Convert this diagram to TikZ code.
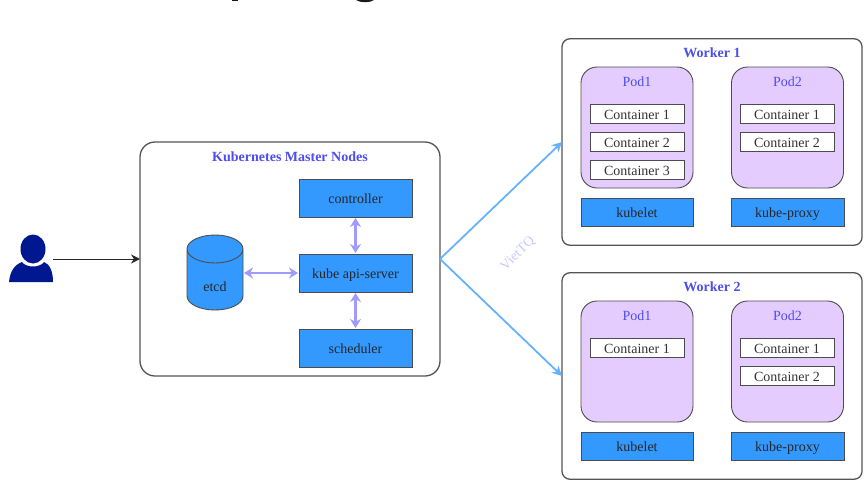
\documentclass[tikz,border=0pt]{standalone}
\usepackage{fontspec}
\setmainfont{Liberation Serif}
\usetikzlibrary{shapes.geometric,arrows.meta}
\definecolor{compblue}{HTML}{3399FF}
\definecolor{podpurple}{HTML}{E5CCFF}
\definecolor{titleblue}{HTML}{4D4DF0}
\definecolor{linkpurple}{HTML}{9F9BFF}
\definecolor{linkblue}{HTML}{66B2FF}
\definecolor{frameline}{HTML}{555555}
\definecolor{userblue}{HTML}{00188F}
\tikzset{
	nodebox/.style={draw=frameline,fill=white,rounded corners=#1,line width=1.3pt,outer sep=0pt},
	comp/.style={draw=black!70,fill=compblue,line width=0.9pt,outer sep=0pt,minimum height=#1,text=black!85,text height=11pt,text depth=0pt,inner ysep=0pt,font=\fontsize{14}{16}\selectfont},
	pod/.style={draw=black!70,fill=podpurple,rounded corners=16pt,line width=0.9pt,minimum width=112pt,minimum height=121pt,outer sep=0pt},
	cont/.style={draw=black!70,fill=white,line width=0.9pt,minimum width=94pt,minimum height=19pt,outer sep=0pt,inner sep=0pt,text=black!80,text height=10pt,text depth=0pt,font=\fontsize{14}{16}\selectfont},
	heading/.style={text=titleblue,font=\fontsize{14}{16}\selectfont\bfseries,inner sep=0pt},
	podname/.style={text=titleblue,font=\fontsize{14}{16}\selectfont,inner sep=0pt},
	purplelink/.style={{Stealth[length=9pt,width=11pt]}-{Stealth[length=9pt,width=11pt]},linkpurple,line width=2.4pt,shorten >=1pt,shorten <=1pt},
	bluelink/.style={-{Stealth[length=10pt,width=10pt]},linkblue,line width=1.8pt}
}
\begin{document}
\begin{tikzpicture}[x=1pt,y=-1pt]
\useasboundingbox (0,0) rectangle (866,487);
\fill [black!90] (232,0) rectangle (238,1);
\fill [black!90] (356,0) .. controls (360,3) and (370,3) .. (374,0) -- cycle;
\node (user) [ellipse,fill=userblue,minimum width=25pt,minimum height=29pt,inner sep=0pt] at (33,249) {};
\fill [userblue] (9,282) .. controls (10,272) and (14,265) .. (22,262) .. controls (26,268) and (40,268) .. (44,262) .. controls (50,264) and (53,272) .. (53,282) -- cycle;
\coordinate (userout) at (53,259);
\node (master) [nodebox=15pt,minimum width=300pt,minimum height=234pt] at (290,259) {};
\node (mastertitle) [heading] at (290,156.5) {Kubernetes Master Nodes};
\node (controller) [comp=38pt,minimum width=113pt] at (355.5,198) {controller};
\node (apiserver) [comp=38pt,minimum width=113pt] at (355.5,273) {kube api-server};
\node (scheduler) [comp=38pt,minimum width=113pt] at (355.5,348) {scheduler};
\draw [draw=black!70,fill=compblue,line width=0.9pt] (187,249) -- (187,296) arc [start angle=180,end angle=360,x radius=28,y radius=-14] -- (243,249) arc [start angle=0,end angle=360,x radius=28,y radius=-14];
\node (etcd) [minimum width=56pt,minimum height=75pt,outer sep=0pt,inner sep=0pt] at (215,272.5) {};
\node (etcdname) [text=black!85,font=\fontsize{14}{16}\selectfont,inner sep=0pt] at (215,286.5) {etcd};
\node (worker1) [nodebox=8pt,minimum width=300pt,minimum height=206.5pt] at (712,142) {};
\node (worker1title) [heading] at (712,53) {Worker 1};
\node (pod11) [pod] at (637,127.5) {};
\node (pod11name) [podname] at (637,82) {Pod1};
\node (cont111) [cont] at (637,114) {Container 1};
\node (cont112) [cont] at (637,142) {Container 2};
\node (cont113) [cont] at (637,170) {Container 3};
\node (pod12) [pod] at (787.5,127.5) {};
\node (pod12name) [podname] at (787.5,82) {Pod2};
\node (cont121) [cont] at (787,114) {Container 1};
\node (cont122) [cont] at (787,142) {Container 2};
\node (kubelet1) [comp=28pt,minimum width=112pt] at (637,212) {kubelet};
\node (proxy1) [comp=28pt,minimum width=113pt] at (787.5,212) {kube-proxy};
\node (worker2) [nodebox=8pt,minimum width=300pt,minimum height=206.5pt] at (712,376) {};
\node (worker2title) [heading] at (712,287) {Worker 2};
\node (pod21) [pod] at (637,361.5) {};
\node (pod21name) [podname] at (637,316) {Pod1};
\node (cont211) [cont] at (637,348) {Container 1};
\node (pod22) [pod] at (787.5,361.5) {};
\node (pod22name) [podname] at (787.5,316) {Pod2};
\node (cont221) [cont] at (787,348) {Container 1};
\node (cont222) [cont] at (787,376) {Container 2};
\node (kubelet2) [comp=28pt,minimum width=112pt] at (637,446) {kubelet};
\node (proxy2) [comp=28pt,minimum width=113pt] at (787.5,446) {kube-proxy};
\node (viettq) [rotate=45,text=linkpurple!55,font=\fontsize{14}{16}\selectfont,inner sep=0pt] at (518,254) {VietTQ};
\draw [-{Stealth[length=9pt,width=9pt]},black!85,line width=0.9pt] (userout) -- (master.west);
\draw [purplelink] (controller.south) -- (apiserver.north);
\draw [purplelink] (apiserver.south) -- (scheduler.north);
\draw [purplelink] (etcd.east |- apiserver.west) -- (apiserver.west);
\draw [bluelink] (master.east) -- (worker1.west);
\draw [bluelink] (master.east) -- (worker2.west);
\end{tikzpicture}
\end{document}
